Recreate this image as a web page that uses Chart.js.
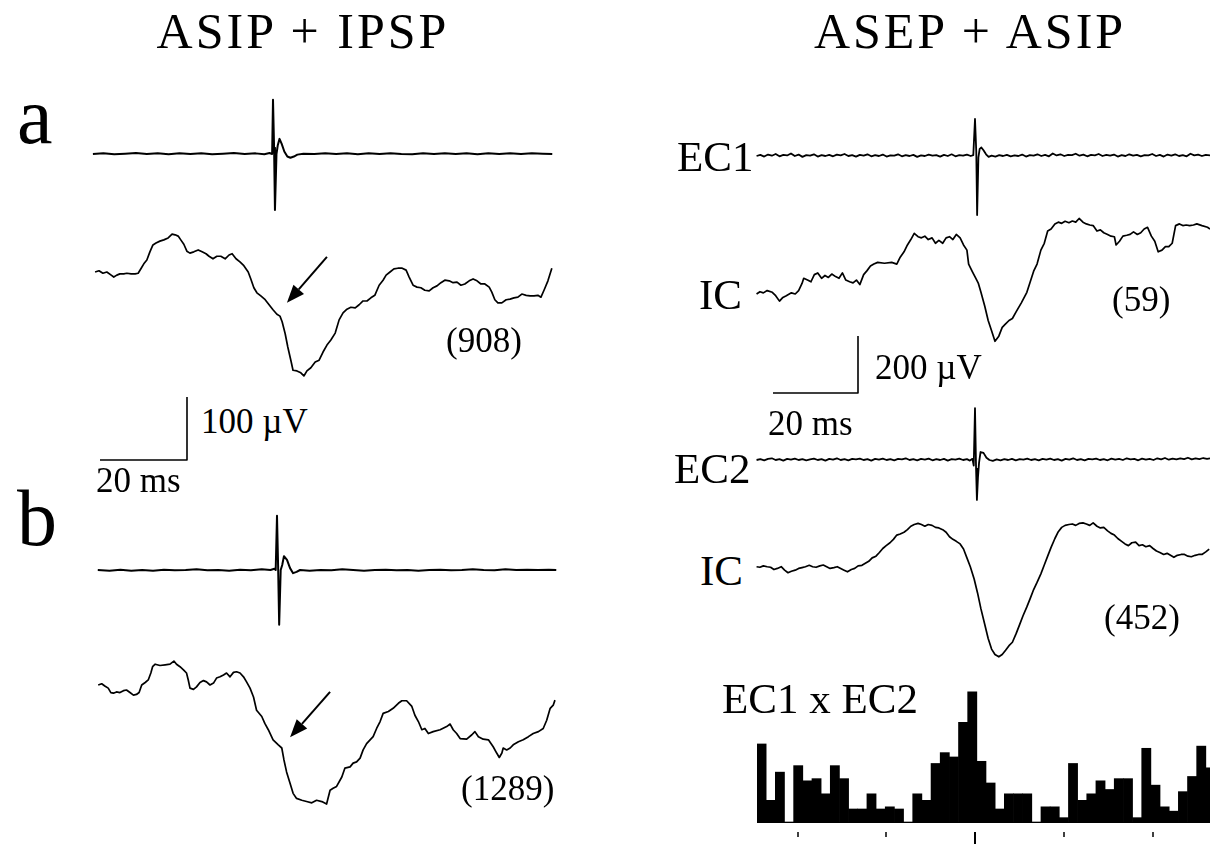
<!DOCTYPE html>
<html>
<head>
<meta charset="utf-8">
<script src="https://cdn.jsdelivr.net/npm/chart.js@4.4.1/dist/chart.umd.min.js"></script>
<style>
  html, body { margin: 0; padding: 0; background: #fff; }
  body { width: 1210px; height: 844px; position: relative; overflow: hidden;
         font-family: "Liberation Serif", "Times New Roman", serif; color: #000; }
  canvas { position: absolute; }
  .lbl { position: absolute; line-height: 1; white-space: nowrap; }
  .title { font-size: 50px; width: 440px; text-align: center; letter-spacing: 3px; }
  .big { font-size: 80px; }
  .num { font-size: 35px; }
  .ch { font-size: 43px; }
</style>
</head>
<body>
<canvas id="ecA"></canvas>
<canvas id="icA"></canvas>
<canvas id="barL"></canvas>
<canvas id="ecB"></canvas>
<canvas id="icB"></canvas>
<canvas id="ec1"></canvas>
<canvas id="ic59"></canvas>
<canvas id="barR"></canvas>
<canvas id="ec2"></canvas>
<canvas id="ic452"></canvas>
<canvas id="hist"></canvas>

<div class="lbl title" style="left:83px; top:6px;">ASIP + IPSP</div>
<div class="lbl title" style="left:750px; top:6px;">ASEP + ASIP</div>
<div class="lbl big" style="left:17px; top:76px;">a</div>
<div class="lbl big" style="left:17px; top:478px;">b</div>
<div class="lbl num" style="left:446px; top:323px;">(908)</div>
<div class="lbl num" style="left:461px; top:771px;">(1289)</div>
<div class="lbl num" style="left:201px; top:404px;">100 &micro;V</div>
<div class="lbl num" style="left:96px; top:463px;">20 ms</div>
<div class="lbl num" style="left:875px; top:350px;">200 &micro;V</div>
<div class="lbl num" style="left:768px; top:406px;">20 ms</div>
<div class="lbl ch" style="left:677px; top:135px;">EC1</div>
<div class="lbl ch" style="left:699px; top:273px;">IC</div>
<div class="lbl num" style="left:1112px; top:282px;">(59)</div>
<div class="lbl ch" style="left:674px; top:447px;">EC2</div>
<div class="lbl ch" style="left:700px; top:549px;">IC</div>
<div class="lbl num" style="left:1104px; top:600px;">(452)</div>
<div class="lbl ch" style="left:722px; top:677px;">EC1 x EC2</div>

<script>
// traces: [time ms (0 = stimulus), potential uV]

// a: extracellular
const ecA = [[-41.4,0],[-39,1],[-36.5,-0.5],[-34,0.5],[-31.5,1.5],[-29,0],[-26.5,1],[-24,-0.5],[-21.5,1],[-19,0],
  [-16.5,1],[-14,-0.5],[-11.5,0.5],[-9,1.5],[-6.5,0],[-4,1],[-2,-0.5],[-0.8,1.5],[-0.2,0],[0,86],[0.25,10],[0.45,-89],
  [0.8,0],[1.1,14],[1.5,24],[2.0,16],[2.6,4],[3.3,-4],[4.0,-6],[4.8,-4],[5.6,-1],[7,0.5],[9.5,0],[12,1],[14.5,0],
  [17,1],[19.5,-0.5],[22,1],[24.5,0],[27,1],[29.5,0],[32,-0.5],[34.5,1],[37,0],[39.5,1],[42,0],[44.5,1],
  [47,-0.5],[49.5,1],[52,0],[54.5,1],[57,0],[59.5,1],[62,0.5],[64.2,0]];

// a: intracellular (908 sweeps)
const icA = [[-40.9,0],[-40.0,2],[-39.1,-2],[-38.2,0],[-37.2,-5],[-36.6,-8],[-35.9,-5],[-35.2,-3],[-34.3,-3],
  [-33.6,-2],[-32.6,-3],[-31.7,-3],[-31.0,-2],[-30.3,6],[-29.7,13],[-29.0,19],[-28.3,32],[-27.6,43],[-26.9,46],
  [-26.0,49],[-25.1,51],[-24.1,54],[-23.2,60],[-22.5,59],[-21.8,57],[-21.2,51],[-20.5,44],[-19.8,33],[-19.1,30],
  [-18.2,32],[-17.2,35],[-16.3,32],[-15.4,29],[-14.7,25],[-13.8,21],[-12.9,25],[-12.0,25],[-11.0,21],[-10.1,27],
  [-9.4,29],[-8.5,21],[-7.6,16],[-6.7,10],[-5.7,0],[-5.1,-11],[-4.4,-25],[-3.7,-33],[-2.8,-38],[-1.8,-44],
  [-0.9,-52],[0,-60],[0.9,-67],[1.6,-70],[2.1,-79],[2.8,-98],[3.4,-119],[4.1,-140],[4.6,-156],[5.5,-157],
  [6.4,-160],[7.1,-165],[7.8,-157],[8.7,-152],[9.7,-143],[10.6,-140],[11.5,-127],[12.4,-116],[13.3,-108],
  [14.3,-97],[15.2,-76],[16.1,-65],[17.0,-59],[17.9,-56],[18.9,-57],[19.8,-52],[20.7,-46],[21.6,-46],[22.5,-41],
  [23.4,-37],[24.4,-21],[25.3,-13],[26.0,-5],[26.9,0],[27.8,5],[28.7,6],[29.7,6],[30.6,3],[31.3,-8],[32.2,-21],
  [33.1,-24],[34.0,-25],[34.9,-29],[35.9,-30],[36.8,-25],[37.7,-22],[38.6,-17],[39.5,-13],[40.5,-14],[41.4,-17],
  [42.3,-16],[43.2,-21],[44.1,-19],[45.1,-14],[46.0,-11],[46.9,-14],[47.8,-19],[48.7,-19],[49.7,-24],[50.3,-32],
  [51.0,-44],[51.7,-49],[52.6,-49],[53.6,-44],[54.5,-43],[55.4,-41],[56.3,-40],[57.2,-35],[58.2,-37],[59.1,-38],
  [60.0,-38],[60.9,-37],[61.6,-40],[62.3,-29],[63.2,-14],[64.1,6]];

// b: extracellular
const ecB = [[-41.2,0],[-38.5,-1],[-36,0.5],[-33.5,-1],[-31,0],[-28.5,-1],[-26,0.5],[-23.5,-0.5],[-21,0],[-18.5,1],
  [-16,-0.5],[-13.5,0],[-11,-1],[-8.5,0.5],[-6,-0.5],[-3.5,1],[-1.5,0],[-0.6,2],[-0.3,0],[0,86],[0.25,8],[0.5,-87],
  [0.85,0],[1.2,8],[1.6,22],[2.3,16],[3.0,3],[3.7,-5],[4.5,-3],[5.3,0],[7.5,-1],[10,0],[12.5,-0.5],[15,1],[17.5,0],
  [20,-1],[22.5,0],[25,0.5],[27.5,-0.5],[30,0],[32.5,-1],[35,0],[37.5,0.5],[40,-0.5],[42.5,0],[45,1],[47.5,0],
  [50,-0.5],[52.5,1],[55,0],[57.5,0.5],[60,0],[62.5,0.5],[64.2,0]];

// b: intracellular (1289 sweeps)
const icB = [[-41.1,0],[-40.3,2],[-39.5,-2],[-38.8,-5],[-38.2,-12],[-37.6,-13],[-36.9,-11],[-36.1,-12],[-35.3,-9],
  [-34.6,-8],[-33.8,-12],[-33.0,-16],[-32.3,-15],[-31.7,-12],[-31.1,0],[-30.3,4],[-29.6,8],[-29.0,19],[-28.6,29],
  [-28.0,33],[-26.9,31],[-25.7,32],[-24.6,33],[-23.7,38],[-23.1,33],[-22.3,29],[-21.5,24],[-20.8,19],[-20.4,8],
  [-20.0,-5],[-19.2,-7],[-18.5,-3],[-17.7,4],[-16.9,7],[-16.2,5],[-15.4,0],[-14.6,3],[-13.9,11],[-13.1,13],
  [-12.3,16],[-11.6,19],[-10.8,13],[-10.0,20],[-9.3,21],[-8.5,19],[-7.7,13],[-7.0,5],[-6.2,-5],[-5.4,-19],
  [-4.7,-40],[-3.5,-50],[-2.8,-61],[-2.0,-71],[-0.9,-87],[0.3,-95],[1.1,-100],[1.6,-119],[2.2,-138],[3.0,-156],
  [3.7,-172],[4.5,-180],[5.7,-183],[6.8,-185],[8.0,-187],[9.1,-183],[10.3,-185],[11.4,-189],[12.2,-167],
  [12.9,-164],[13.7,-161],[14.9,-146],[15.6,-132],[16.8,-130],[17.5,-124],[18.3,-122],[19.1,-116],[19.8,-103],
  [20.6,-93],[21.4,-87],[22.1,-82],[22.9,-69],[23.7,-58],[24.4,-45],[25.6,-42],[26.7,-37],[27.9,-29],[28.7,-25],
  [29.8,-25],[31.0,-34],[31.7,-48],[32.5,-58],[33.3,-71],[34.0,-69],[34.8,-77],[35.9,-74],[37.5,-71],[39.0,-66],
  [39.8,-62],[40.5,-71],[41.3,-77],[42.1,-85],[43.6,-86],[44.8,-79],[45.5,-74],[46.3,-82],[47.4,-86],[48.6,-87],
  [49.7,-98],[50.5,-108],[51.1,-115],[51.7,-108],[52.0,-100],[52.8,-103],[53.6,-100],[54.3,-95],[55.5,-90],
  [56.6,-87],[57.8,-82],[58.9,-77],[60.1,-74],[61.2,-69],[62.0,-56],[62.8,-37],[63.5,-32],[63.9,-24]];

// right: EC1
const ec1 = [[-51.4,0],[-50.5,4],[-49.6,-2],[-48.7,5],[-47.8,1],[-46.9,7],[-46,-1],[-45.1,4],[-44.2,2],[-43.3,9],
  [-42.4,0],[-41.5,5],[-40.6,-3],[-39.7,3],[-38.8,1],[-37.9,6],[-37,-2],[-36.1,3],[-35.2,0],[-34.3,4],[-33.4,-1],
  [-32.5,5],[-31.6,2],[-30.7,7],[-29.8,0],[-28.9,3],[-28,-2],[-27.1,4],[-26.2,1],[-25.3,6],[-24.4,-1],[-23.5,3],
  [-22.6,0],[-21.7,5],[-20.8,-2],[-19.9,2],[-19,1],[-18.1,6],[-17.2,-1],[-16.3,3],[-15.4,0],[-14.5,4],[-13.6,-3],
  [-12.7,2],[-11.8,0],[-10.9,5],[-10,1],[-9.1,3],[-8.2,-2],[-7.3,4],[-6.4,0],[-5.5,6],[-4.6,-1],[-3.7,3],[-2.8,1],
  [-1.9,5],[-1,0],[-0.4,3],[0,130],[0.3,15],[0.5,-207],[0.8,-5],[1.1,25],[1.5,30],[2.0,20],[2.6,6],[3.2,-3],
  [3.9,1],[4.8,-2],[5.7,3],[6.6,0],[7.5,4],[8.4,-1],[9.3,2],[10.2,0],[11.1,5],[12,-2],[12.9,3],[13.8,1],[14.7,6],
  [15.6,0],[16.5,4],[17.4,-1],[18.3,9],[19.2,2],[20.1,6],[21,0],[21.9,4],[22.8,3],[23.7,8],[24.6,1],[25.5,5],
  [26.4,-1],[27.3,4],[28.2,2],[29.1,7],[30,0],[30.9,4],[31.8,1],[32.7,5],[33.6,-2],[34.5,3],[35.4,0],[36.3,6],
  [37.2,1],[38.1,4],[39,-1],[39.9,3],[40.8,2],[41.7,7],[42.6,0],[43.5,4],[44.4,-2],[45.3,5],[46.2,1],[47.1,6],
  [48,0],[48.9,3],[49.8,-1],[50.7,8],[51.6,2],[52.5,5],[53.4,0],[54.3,4],[55.3,2]];

// right: IC (59 sweeps)
const ic59 = [[-51.4,0],[-50.6,8],[-49.8,4],[-48.9,12],[-47.7,6],[-46.9,-6],[-46.0,-25],[-45.2,-12],[-44.4,-6],
  [-43.2,4],[-42.3,0],[-41.5,12],[-40.7,37],[-40.3,55],[-39.4,49],[-38.6,43],[-37.8,68],[-37.0,74],[-36.1,55],
  [-35.3,65],[-34.5,58],[-33.7,70],[-32.8,61],[-32.0,55],[-31.2,74],[-30.4,49],[-29.5,43],[-28.7,39],[-27.9,49],
  [-27.1,33],[-26.2,68],[-25.4,82],[-24.6,98],[-23.8,105],[-22.9,111],[-21.3,108],[-19.6,111],[-18.4,105],
  [-17.6,129],[-16.7,148],[-15.9,172],[-15.1,191],[-14.3,213],[-13.4,201],[-12.6,197],[-11.8,203],[-11.0,191],
  [-10.1,197],[-9.3,178],[-8.5,188],[-7.6,178],[-6.8,197],[-6.0,201],[-5.2,191],[-4.4,209],[-3.5,197],[-2.7,172],
  [-1.9,154],[-1.5,105],[-0.6,78],[0.2,55],[0.8,37],[1.4,6],[2.3,-43],[3.1,-93],[3.9,-129],[4.7,-166],[5.6,-148],
  [6.4,-117],[7.2,-105],[8.0,-93],[8.8,-86],[9.7,-62],[10.9,-31],[12.2,6],[13.0,43],[13.8,80],[14.6,105],
  [15.5,154],[16.3,178],[17.1,221],[17.9,228],[18.8,246],[19.6,252],[20.4,248],[21.2,255],[22.1,250],[22.9,256],
  [23.7,252],[24.5,265],[25.4,252],[26.2,246],[27.0,242],[27.8,240],[28.7,221],[29.5,225],[30.3,215],[31.2,209],
  [32.0,203],[32.8,201],[33.2,172],[34.0,185],[34.8,203],[35.7,206],[36.5,209],[37.3,218],[38.2,209],[39.0,215],
  [39.8,228],[40.6,234],[41.5,203],[42.3,185],[43.1,148],[44.0,154],[44.8,166],[45.6,166],[46.4,178],[47.2,240],
  [48.1,246],[48.9,240],[49.7,242],[50.5,240],[51.4,242],[52.2,246],[53.4,240],[54.7,234],[55.3,228]];

// right: EC2
const ec2 = [[-51.4,0],[-50.5,3],[-49.6,-1],[-48.7,4],[-47.8,6],[-46.9,0],[-46,3],[-45.1,-2],[-44.2,4],[-43.3,1],
  [-42.4,5],[-41.5,0],[-40.6,3],[-39.7,-1],[-38.8,2],[-37.9,5],[-37,0],[-36.1,3],[-35.2,-2],[-34.3,4],[-33.4,1],
  [-32.5,6],[-31.6,0],[-30.7,3],[-29.8,-1],[-28.9,4],[-28,2],[-27.1,5],[-26.2,0],[-25.3,3],[-24.4,-2],[-23.5,4],
  [-22.6,1],[-21.7,5],[-20.8,0],[-19.9,3],[-19,-1],[-18.1,4],[-17.2,2],[-16.3,6],[-15.4,0],[-14.5,3],[-13.6,-1],
  [-12.7,4],[-11.8,1],[-10.9,5],[-10,-1],[-9.1,3],[-8.2,0],[-7.3,4],[-6.4,-2],[-5.5,3],[-4.6,1],[-3.7,5],[-2.8,0],
  [-1.9,3],[-1.2,-2],[-0.6,4],[-0.3,-20],[0,182],[0.25,-30],[0.45,-140],[0.7,-60],[0.95,-10],[1.3,28],[2.0,25],
  [2.7,8],[3.4,0],[4.2,-3],[5.1,2],[6,-1],[6.9,3],[7.8,0],[8.7,4],[9.6,-1],[10.5,3],[11.4,1],[12.3,5],[13.2,0],
  [14.1,3],[15,-1],[15.9,4],[16.8,1],[17.7,5],[18.6,0],[19.5,3],[20.4,-2],[21.3,4],[22.2,1],[23.1,6],[24,0],
  [24.9,3],[25.8,-1],[26.7,4],[27.6,2],[28.5,5],[29.4,0],[30.3,3],[31.2,-1],[32.1,5],[33,1],[33.9,4],[34.8,0],
  [35.7,6],[36.6,2],[37.5,4],[38.4,-1],[39.3,5],[40.2,1],[41.1,4],[42,0],[42.9,6],[43.8,2],[44.7,7],[45.6,1],
  [46.5,5],[47.4,2],[48.3,6],[49.2,3],[50.1,8],[51,2],[51.9,6],[52.8,3],[53.7,7],[54.6,4],[55.3,6]];

// right: IC (452 sweeps)
const ic452 = [[-51.4,1],[-50.6,-1],[-49.8,4],[-48.9,1],[-48.1,-1],[-47.3,-9],[-46.5,-5],[-45.6,1],[-44.8,-11],
  [-44.0,-20],[-43.2,-15],[-42.3,-11],[-41.5,-5],[-40.7,-2],[-39.9,1],[-39.0,6],[-38.2,1],[-37.4,-1],[-36.5,4],
  [-35.7,7],[-34.9,1],[-34.1,-5],[-33.2,-2],[-32.4,1],[-31.6,-5],[-30.8,-11],[-30.0,-17],[-29.1,-9],[-28.3,-5],
  [-27.5,4],[-26.6,6],[-25.8,13],[-25.0,20],[-24.2,32],[-23.3,38],[-22.5,51],[-21.7,65],[-20.9,75],[-20.0,85],
  [-19.2,97],[-18.4,112],[-17.6,116],[-16.7,122],[-15.9,131],[-15.1,143],[-14.3,149],[-13.4,153],[-12.6,149],
  [-11.8,143],[-11.0,149],[-10.1,146],[-9.3,139],[-8.5,137],[-7.6,131],[-6.8,122],[-6.0,106],[-5.2,97],[-4.4,90],
  [-3.5,81],[-2.7,63],[-1.9,32],[-1.1,1],[-0.2,-42],[0.6,-91],[1.4,-147],[2.3,-202],[3.1,-251],[3.9,-288],
  [4.7,-307],[5.6,-315],[6.4,-307],[7.2,-292],[8.0,-276],[8.8,-264],[9.7,-233],[10.5,-202],[11.3,-171],
  [12.2,-140],[13.0,-110],[13.8,-79],[14.6,-54],[15.5,-24],[16.3,7],[17.1,38],[17.9,69],[18.8,100],[19.6,124],
  [20.4,139],[21.2,146],[22.1,149],[22.9,151],[23.7,146],[24.5,153],[25.4,155],[26.2,151],[27.0,146],[27.8,155],
  [28.7,143],[29.5,137],[30.3,139],[31.2,127],[32.0,118],[32.8,112],[33.6,100],[34.5,90],[35.3,81],[36.1,75],
  [36.9,85],[37.8,87],[38.6,75],[39.4,78],[40.2,71],[41.1,75],[41.9,65],[42.7,56],[43.5,51],[44.4,44],[45.2,48],
  [46.0,41],[46.8,34],[47.6,41],[48.5,44],[49.3,44],[50.1,38],[50.9,36],[51.8,41],[52.6,44],[53.4,44],[54.3,53],
  [55.1,63]];

// scale bars [ms, uV]
const scaleBarLeft = [[-20,0],[0,0],[0,100]];
const scaleBarRight = [[-20,0],[0,0],[0,200]];

// arrows [ms, uV]
const arrowA = { from: [12.4, 24], to: [3.2, -49] };
const arrowB = { from: [12.2, -11], to: [3.0, -83] };

// cross-correlogram EC1 x EC2, 2 ms bins (bin start, ms)
const histLags = [-48,-46,-44,-42,-40,-38,-36,-34,-32,-30,-28,-26,-24,-22,-20,-18,-16,-14,-12,-10,
  -8,-6,-4,-2,0,2,4,6,8,10,12,14,16,18,20,22,24,26,28,30,32,34,36,38,40,42,44,46,48,50];
const histCounts = [36,10,23,0,26,19,20,13,26,20,6,6,13,6,7,6,0,13,10,27,
  32,30,46,60,28,18,6,13,13,13,0,7,7,2,27,10,13,19,15,20,20,2,34,17,7,5,14,21,35,25];
const lagTicks = [-40,-20,0,20,40];

const toXY = (arr) => arr.map(p => ({ x: p[0], y: p[1] }));

const decor = {
  id: 'decor',
  afterDatasetsDraw(chart, args, opts) {
    const ctx = chart.ctx;
    ctx.save();
    ctx.strokeStyle = '#000';
    ctx.fillStyle = '#000';
    (opts.arrows || []).forEach(a => {
      const sx = chart.scales.x, sy = chart.scales.y;
      const x1 = sx.getPixelForValue(a.from[0]), y1 = sy.getPixelForValue(a.from[1]);
      const x2 = sx.getPixelForValue(a.to[0]), y2 = sy.getPixelForValue(a.to[1]);
      const ang = Math.atan2(y2 - y1, x2 - x1);
      const hl = 18, hw = 7;
      const bx = x2 - hl * Math.cos(ang), by = y2 - hl * Math.sin(ang);
      ctx.lineWidth = 2;
      ctx.beginPath(); ctx.moveTo(x1, y1); ctx.lineTo(bx, by); ctx.stroke();
      ctx.beginPath();
      ctx.moveTo(x2, y2);
      ctx.lineTo(bx + hw * Math.sin(ang), by - hw * Math.cos(ang));
      ctx.lineTo(bx - hw * Math.sin(ang), by + hw * Math.cos(ang));
      ctx.closePath(); ctx.fill();
    });
    if (opts.ticks) {
      const y0 = chart.scales.y.getPixelForValue(0);
      const ca = chart.chartArea;
      const lag = chart.scales.lag;
      ctx.lineWidth = 1;
      ctx.beginPath(); ctx.moveTo(ca.left, y0 + 0.5); ctx.lineTo(ca.right, y0 + 0.5); ctx.stroke();
      opts.ticks.forEach(v => {
        const x = Math.round(lag.getPixelForValue(v));
        ctx.lineWidth = v === 0 ? 2 : 1.5;
        ctx.beginPath(); ctx.moveTo(x, y0 + 10); ctx.lineTo(x, y0 + (v === 0 ? 22 : 15)); ctx.stroke();
      });
    }
    ctx.restore();
  }
};
Chart.register(decor);

function place(cv, box) {
  cv.width = box.w; cv.height = box.h;
  cv.style.left = box.l + 'px'; cv.style.top = box.t + 'px';
  cv.style.width = box.w + 'px'; cv.style.height = box.h + 'px';
}

// box = canvas on page, anchor = page pixel of (0 ms, 0 uV)
function trace(id, box, anchor, pxMs, pxUv, sets, plug) {
  const cv = document.getElementById(id);
  place(cv, box);
  return new Chart(cv, {
    type: 'line',
    data: {
      datasets: sets.map(s => ({
        data: toXY(s.data), borderColor: '#000', borderWidth: s.w || 1.7,
        pointRadius: 0, tension: 0, fill: false, borderJoinStyle: 'round', borderCapStyle: 'butt'
      }))
    },
    options: {
      responsive: false, animation: false, devicePixelRatio: 1, events: [],
      layout: { padding: 0 },
      plugins: { legend: { display: false }, tooltip: { enabled: false }, decor: plug || {} },
      scales: {
        x: { type: 'linear', display: false, min: (box.l - anchor.x) / pxMs, max: (box.l + box.w - anchor.x) / pxMs },
        y: { type: 'linear', display: false, min: (anchor.y - box.t - box.h) / pxUv, max: (anchor.y - box.t) / pxUv }
      }
    }
  });
}

const L_MS = 4.35, L_UV = 0.63;   // left column px per ms / px per uV
const R_MS = 4.25, R_UV = 0.285;  // right column

trace('ecA', { l: 80, t: 90, w: 490, h: 130 }, { x: 273, y: 154 }, L_MS, L_UV, [{ data: ecA, w: 2 }]);
trace('icA', { l: 80, t: 215, w: 490, h: 175 }, { x: 273, y: 272 }, L_MS, L_UV, [{ data: icA }], { arrows: [arrowA] });
trace('barL', { l: 90, t: 390, w: 110, h: 80 }, { x: 187, y: 460 }, L_MS, L_UV, [{ data: scaleBarLeft, w: 1.6 }]);
trace('ecB', { l: 80, t: 505, w: 490, h: 130 }, { x: 277, y: 570 }, L_MS, L_UV, [{ data: ecB, w: 2 }]);
trace('icB', { l: 80, t: 640, w: 490, h: 180 }, { x: 277, y: 685 }, L_MS, L_UV, [{ data: icB }], { arrows: [arrowB] });

trace('ec1', { l: 745, t: 105, w: 465, h: 120 }, { x: 975, y: 156 }, R_MS, R_UV, [{ data: ec1, w: 1.8 }]);
trace('ic59', { l: 745, t: 205, w: 465, h: 150 }, { x: 975, y: 294 }, R_MS, R_UV, [{ data: ic59 }]);
trace('barR', { l: 760, t: 325, w: 110, h: 80 }, { x: 858, y: 393 }, R_MS, R_UV, [{ data: scaleBarRight, w: 1.6 }]);
trace('ec2', { l: 745, t: 395, w: 465, h: 115 }, { x: 975, y: 460 }, R_MS, R_UV, [{ data: ec2, w: 1.8 }]);
trace('ic452', { l: 745, t: 505, w: 465, h: 160 }, { x: 975, y: 567 }, R_MS, R_UV, [{ data: ic452 }]);

// correlogram
const hBox = { l: 757, t: 680, w: 458, h: 166 };
const hcv = document.getElementById('hist');
place(hcv, hBox);
const H_MS = 4.4375, zeroX = 975;
new Chart(hcv, {
  type: 'bar',
  data: {
    labels: histLags,
    datasets: [{ data: histCounts, backgroundColor: '#000', borderWidth: 0, barPercentage: 1, categoryPercentage: 1 }]
  },
  options: {
    responsive: false, animation: false, devicePixelRatio: 1, events: [],
    layout: { padding: { bottom: 24 } },
    plugins: { legend: { display: false }, tooltip: { enabled: false }, decor: { ticks: lagTicks } },
    scales: {
      x: { display: false },
      y: { display: false, min: 0, max: 65.5 },
      lag: { type: 'linear', axis: 'x', display: false, position: 'bottom', offset: false, bounds: 'data', grace: 0,
             min: (hBox.l - zeroX) / H_MS, max: (hBox.l + hBox.w - zeroX) / H_MS,
             grid: { offset: false } }
    }
  }
});
</script>
</body>
</html>
